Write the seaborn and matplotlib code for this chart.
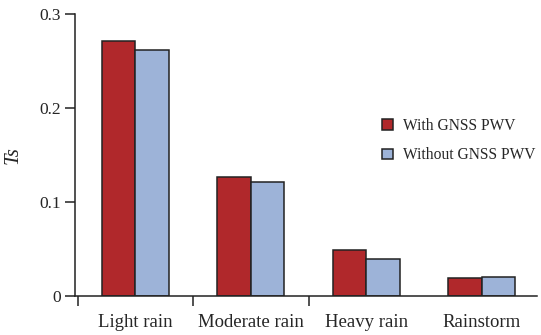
import matplotlib
matplotlib.use("Agg")
import matplotlib.pyplot as plt
import seaborn as sns
import pandas as pd

categories = ["Light rain", "Moderate rain", "Heavy rain", "Rainstorm"]
series_names = ["With GNSS PWV", "Without GNSS PWV"]
with_gnss = [0.271, 0.127, 0.049, 0.019]
without_gnss = [0.262, 0.121, 0.039, 0.020]
yticks = [0, 0.1, 0.2, 0.3]
ytick_labels = ["0", "0.1", "0.2", "0.3"]

df = pd.DataFrame({
    "cat": categories * 2,
    "series": [series_names[0]] * 4 + [series_names[1]] * 4,
    "Ts": with_gnss + without_gnss,
})

sns.set_theme(style="white")
plt.rcParams["font.family"] = ["Liberation Serif", "DejaVu Serif"]

fig = plt.figure(figsize=(5.41, 3.35), dpi=100)
ax = fig.add_axes([0.139, 0.116, 0.854, 0.842])

sns.barplot(data=df, x="cat", y="Ts", hue="series", order=categories,
            hue_order=series_names, palette=["#B0282B", "#9DB3D8"],
            width=0.58, gap=0, edgecolor="#222222", linewidth=1.1,
            saturation=1, ax=ax)

ax.set_xlim(-0.52, 3.48)
ax.set_ylim(0, 0.3)
ax.set_yticks(yticks)
ax.set_yticklabels(ytick_labels, fontsize=12.5)
ax.set_xticks(range(4))
ax.set_xticklabels(categories, fontsize=13.5)
ax.tick_params(axis="x", length=0, pad=13)
ax.set_xticks([-0.5, 0.5, 1.5], minor=True)
ax.tick_params(axis="x", which="minor", length=7, width=1.1, direction="out", color="#222222", bottom=True)
ax.tick_params(axis="y", length=7, width=1.1, direction="out", color="#222222", left=True, pad=3)

for s in ["top", "right"]:
    ax.spines[s].set_visible(False)
for s in ["left", "bottom"]:
    ax.spines[s].set_color("#222222")
    ax.spines[s].set_linewidth(1.1)

ax.set_xlabel("")
ax.set_ylabel("Ts", fontsize=15, style="italic", labelpad=12)

ax.legend(title=None, frameon=False, fontsize=11.2, loc="upper left",
          bbox_to_anchor=(0.698, 0.661), bbox_transform=fig.transFigure,
          handlelength=0.7, handleheight=0.7, handletextpad=0.6, labelspacing=0.85,
          borderaxespad=0, borderpad=0.3)

fig.savefig("out.png", dpi=100)
